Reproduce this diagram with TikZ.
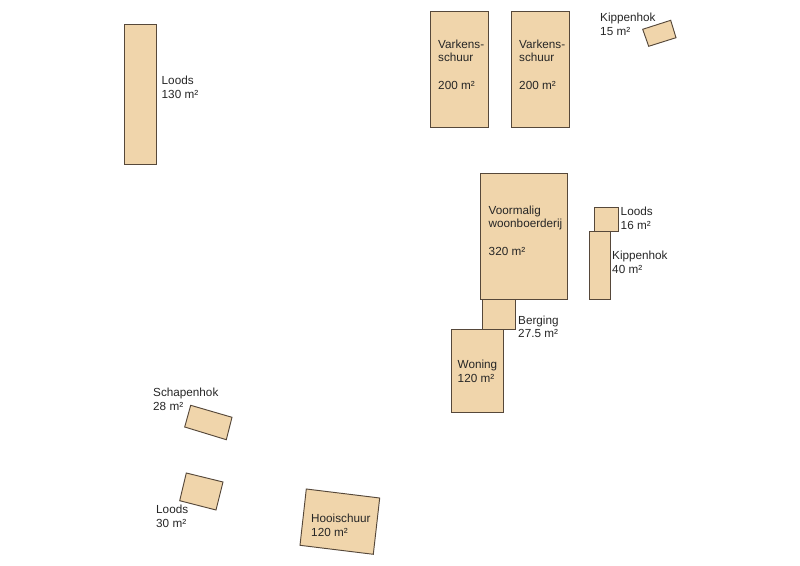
\documentclass[tikz,border=0pt]{standalone}
\usepackage{fontspec}
\setmainfont{Liberation Sans}
\definecolor{schuurfill}{HTML}{F0D5AB}
\definecolor{schuurline}{HTML}{56483A}
\tikzset{
  schuur/.style={draw=schuurline,fill=schuurfill,line width=0.8pt,line join=miter},
  tekst/.style={anchor=west,align=left,inner sep=0pt,text=black!85,font=\fontsize{10}{11.6}\selectfont}
}

\begin{document}
\begin{tikzpicture}[x=0.03cm,y=-0.03cm]
  \useasboundingbox (0,0) rectangle (800,566);
  % rechte gebouwen
  \foreach \xa/\ya/\xb/\yb in {124/24/156/164,430/11.5/488/127,511/11.5/569/127,
    482.3/299.3/515.3/329.3,480/173.5/567.7/299.3,451.7/329.3/503.3/412.5,
    589/231.3/610/299.3,594.3/207.3/618/231.3}
    \draw[schuur] (\xa,\ya) rectangle (\xb,\yb);
  % scheve gebouwen
  \draw[schuur] (642.7,29.3) -- (670.7,20.3) -- (676,37.7) -- (648.7,46.3) -- cycle;
  \draw[schuur] (190.7,405.3) -- (232,417.3) -- (226.3,439.7) -- (184.7,427) -- cycle;
  \draw[schuur] (186.3,473) -- (223,482) -- (216,510) -- (179.7,500.7) -- cycle;
  \draw[schuur] (306.3,489) -- (379.7,498) -- (373.3,554.3) -- (300,545.3) -- cycle;
  % labels
  \node[tekst] (loodsA) at (161.5,87.5) {Loods\\130 m²};
  \node[tekst] (varkensA) at (438,64.5) {Varkens-\\schuur\\[\baselineskip]200 m²};
  \node[tekst] (varkensB) at (519,64.5) {Varkens-\\schuur\\[\baselineskip]200 m²};
  \node[tekst] (kippenA) at (600,24.5) {Kippenhok\\15 m²};
  \node[tekst] (voormalig) at (488.5,230.5) {Voormalig\\woonboerderij\\[\baselineskip]320 m²};
  \node[tekst] (loodsB) at (620.5,218.5) {Loods\\16 m²};
  \node[tekst] (kippenB) at (612,262.5) {Kippenhok\\40 m²};
  \node[tekst] (berging) at (518,327) {Berging\\27.5 m²};
  \node[tekst] (woning) at (457.5,371.5) {Woning\\120 m²};
  \node[tekst] (schapen) at (153,399.5) {Schapenhok\\28 m²};
  \node[tekst] (loodsC) at (156,516.5) {Loods\\30 m²};
  \node[tekst] (hooi) at (311,525.5) {Hooischuur\\120 m²};
\end{tikzpicture}
\end{document}
